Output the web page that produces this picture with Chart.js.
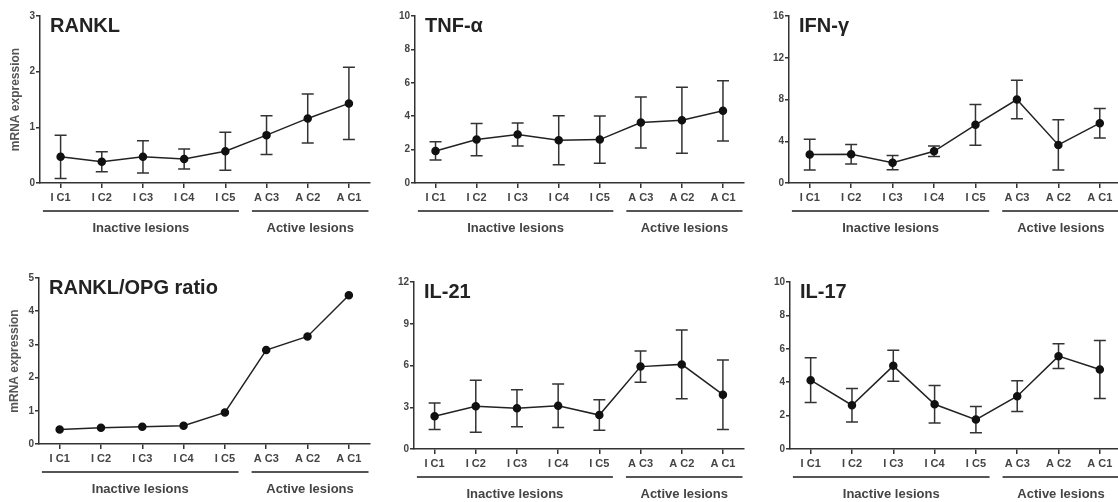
<!DOCTYPE html>
<html>
<head>
<meta charset="utf-8">
<script src="https://cdn.jsdelivr.net/npm/chart.js@4.4.1/dist/chart.umd.min.js"></script>
<style>
    html, body { margin: 0; padding: 0; background: #fff; overflow: hidden; width: 1118px; height: 502px; }
    canvas { position: absolute; }
</style>
</head>
<body>
<canvas id="c1"></canvas>
<canvas id="c2"></canvas>
<canvas id="c3"></canvas>
<canvas id="c4"></canvas>
<canvas id="c5"></canvas>
<canvas id="c6"></canvas>
<script>
// Datos
const categories = ['I C1', 'I C2', 'I C3', 'I C4', 'I C5', 'A C3', 'A C2', 'A C1'];
const groupLabels = ['Inactive lesions', 'Active lesions'];
const groupSizes = [5, 3];

const ranklMean = [0.47, 0.38, 0.47, 0.43, 0.57, 0.86, 1.16, 1.43];
const ranklErr = [0.39, 0.18, 0.29, 0.18, 0.34, 0.35, 0.44, 0.65];

const tnfMean = [1.92, 2.6, 2.9, 2.56, 2.6, 3.62, 3.76, 4.32];
const tnfErr = [0.55, 0.97, 0.69, 1.46, 1.41, 1.53, 1.98, 1.81];

const ifnMean = [2.72, 2.75, 1.95, 3.04, 5.57, 8.0, 3.65, 5.73];
const ifnErr = [1.47, 0.93, 0.69, 0.5, 1.95, 1.84, 2.4, 1.41];

const ratioMean = [0.44, 0.49, 0.52, 0.55, 0.95, 2.83, 3.24, 4.48];

const il21Mean = [2.35, 3.07, 2.92, 3.11, 2.44, 5.92, 6.08, 3.9];
const il21Err = [0.95, 1.87, 1.33, 1.56, 1.1, 1.12, 2.47, 2.5];

const il17Mean = [4.12, 2.62, 4.98, 2.68, 1.76, 3.16, 5.56, 4.76];
const il17Err = [1.34, 1.01, 0.93, 1.12, 0.78, 0.92, 0.74, 1.74];

const yTitle = 'mRNA expression';

const panels = [
    { id: 'c1', title: 'RANKL', mean: ranklMean, err: ranklErr, max: 3, step: 1, axisTitle: true, plot: { l: 40, r: 372, t: 16, b: 183 } },
    { id: 'c2', title: 'TNF-α', mean: tnfMean, err: tnfErr, max: 10, step: 2, axisTitle: false, plot: { l: 415, r: 746, t: 16, b: 183 } },
    { id: 'c3', title: 'IFN-γ', mean: ifnMean, err: ifnErr, max: 16, step: 4, axisTitle: false, plot: { l: 789, r: 1123, t: 16, b: 183 } },
    { id: 'c4', title: 'RANKL/OPG ratio', mean: ratioMean, err: null, max: 5, step: 1, axisTitle: true, plot: { l: 39, r: 372, t: 278, b: 444 } },
    { id: 'c5', title: 'IL-21', mean: il21Mean, err: il21Err, max: 12, step: 3, axisTitle: false, plot: { l: 414, r: 746, t: 282, b: 449 } },
    { id: 'c6', title: 'IL-17', mean: il17Mean, err: il17Err, max: 10, step: 2, axisTitle: false, plot: { l: 790, r: 1123, t: 282, b: 449 } }
];

const AXIS_W = 40;
const XAXIS_H = 20;
const BELOW = 56;

// Barras de error
const errorBars = {
    id: 'errorBars',
    beforeDatasetsDraw(chart) {
        const err = chart.options.plugins.errorBars.err;
        if (!err) return;
        const ctx = chart.ctx;
        const y = chart.scales.y;
        const meta = chart.getDatasetMeta(0);
        const values = chart.data.datasets[0].data;
        ctx.save();
        ctx.strokeStyle = '#333';
        ctx.lineWidth = 1.5;
        meta.data.forEach((pt, i) => {
            const top = y.getPixelForValue(values[i] + err[i]);
            const bot = y.getPixelForValue(values[i] - err[i]);
            ctx.beginPath();
            ctx.moveTo(pt.x, top); ctx.lineTo(pt.x, bot);
            ctx.moveTo(pt.x - 6, top); ctx.lineTo(pt.x + 6, top);
            ctx.moveTo(pt.x - 6, bot); ctx.lineTo(pt.x + 6, bot);
            ctx.stroke();
        });
        ctx.restore();
    }
};

// Titulo y grupos
const decorations = {
    id: 'decorations',
    afterDraw(chart) {
        const ctx = chart.ctx;
        const area = chart.chartArea;
        const x = chart.scales.x;
        ctx.save();
        ctx.fillStyle = '#222';
        ctx.font = 'bold 20px "Liberation Sans", Arial, sans-serif';
        ctx.textAlign = 'left';
        ctx.textBaseline = 'alphabetic';
        ctx.fillText(chart.options.plugins.decorations.title, area.left + 10, area.top + 16);

        const step = x.getPixelForValue(1) - x.getPixelForValue(0);
        const mid = (x.getPixelForValue(groupSizes[0] - 1) + x.getPixelForValue(groupSizes[0])) / 2;
        const spans = [
            [x.getPixelForValue(0) - 0.43 * step, mid - 7],
            [mid + 6, area.right - 1]
        ];
        const lineY = area.bottom + 28;
        ctx.strokeStyle = '#555';
        ctx.lineWidth = 2;
        ctx.fillStyle = '#444';
        ctx.font = 'bold 13px "Liberation Sans", Arial, sans-serif';
        ctx.textAlign = 'center';
        ctx.textBaseline = 'middle';
        spans.forEach((s, i) => {
            ctx.beginPath();
            ctx.moveTo(s[0], lineY);
            ctx.lineTo(s[1], lineY);
            ctx.stroke();
            ctx.fillText(groupLabels[i], (s[0] + s[1]) / 2, area.bottom + 45);
        });
        ctx.restore();
    }
};

panels.forEach(p => {
    const canvas = document.getElementById(p.id);
    const left = p.plot.l - AXIS_W;
    const top = p.plot.t - 16;
    const width = p.plot.r - left + 3;
    const height = p.plot.b - top + BELOW;
    canvas.style.left = left + 'px';
    canvas.style.top = top + 'px';
    canvas.style.width = width + 'px';
    canvas.style.height = height + 'px';
    canvas.width = width;
    canvas.height = height;

    new Chart(canvas.getContext('2d'), {
        type: 'line',
        data: {
            labels: categories,
            datasets: [{
                data: p.mean,
                borderColor: '#222',
                borderWidth: 1.5,
                pointRadius: 3.5,
                pointBackgroundColor: '#111',
                pointBorderColor: '#111',
                tension: 0
            }]
        },
        options: {
            responsive: false,
            animation: false,
            events: [],
            layout: {
                padding: { left: 0, top: 16, right: 3, bottom: BELOW - XAXIS_H }
            },
            plugins: {
                legend: { display: false },
                tooltip: { enabled: false },
                errorBars: { err: p.err },
                decorations: { title: p.title }
            },
            scales: {
                x: {
                    offset: true,
                    grid: {
                        display: true,
                        drawOnChartArea: false,
                        drawTicks: true,
                        tickLength: 5,
                        color: '#333',
                        lineWidth: 1.5
                    },
                    border: { color: '#333', width: 1.5 },
                    ticks: {
                        color: '#444',
                        padding: 3,
                        maxRotation: 0,
                        autoSkip: false,
                        font: { family: '"Liberation Sans", Arial, sans-serif', size: 11, weight: 'bold' }
                    },
                    afterFit(scale) { scale.height = XAXIS_H; }
                },
                y: {
                    min: 0,
                    max: p.max,
                    grid: {
                        display: true,
                        drawOnChartArea: false,
                        drawTicks: true,
                        tickLength: 4,
                        color: '#333',
                        lineWidth: 1.5
                    },
                    border: { color: '#333', width: 1.5 },
                    ticks: {
                        stepSize: p.step,
                        color: '#444',
                        padding: 1,
                        font: { family: '"Liberation Sans", Arial, sans-serif', size: 10, weight: 'bold' }
                    },
                    title: {
                        display: p.axisTitle,
                        text: yTitle,
                        color: '#555',
                        padding: { top: 8, bottom: 0 },
                        font: { family: '"Liberation Sans", Arial, sans-serif', size: 12, weight: 'bold' }
                    },
                    afterFit(scale) { scale.width = AXIS_W; }
                }
            }
        },
        plugins: [errorBars, decorations]
    });
});
</script>
</body>
</html>
